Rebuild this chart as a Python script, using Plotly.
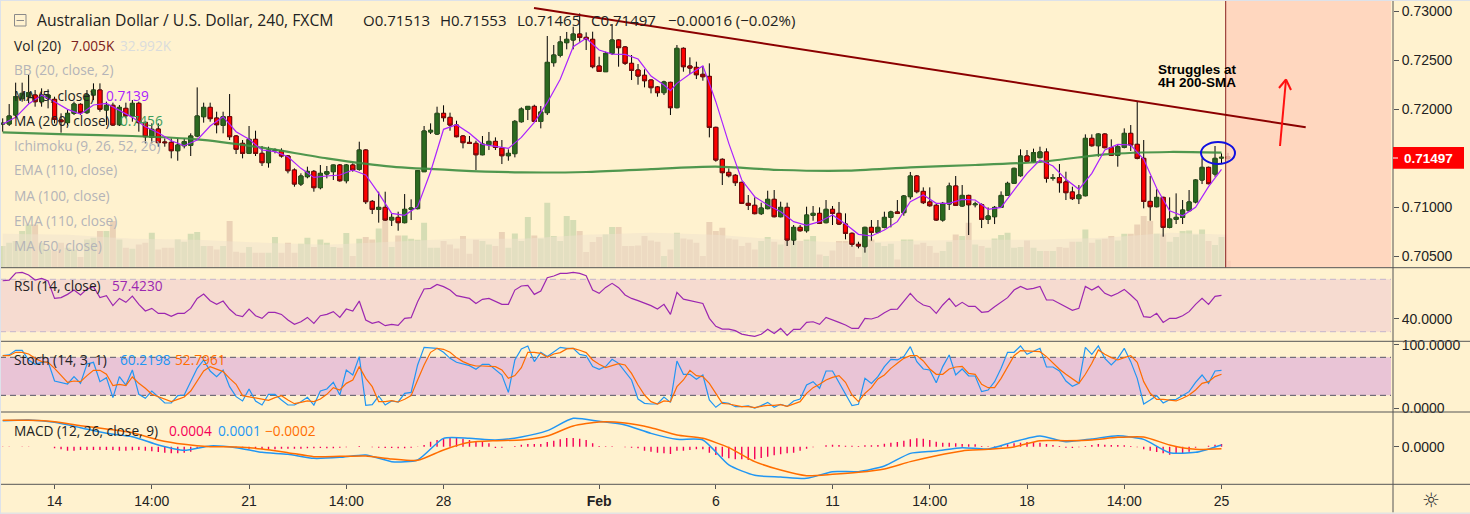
# AUD/USD 4H chart with volume, RSI, stochastic and MACD panes
import plotly.graph_objects as go

W, H = 1470, 514

# candles, prices in 1e-5
opens = [71847,71847,71939,72106,72126,72143,72075,72109,72099,71888,
 71861,71956,72048,71963,72143,72194,71990,72038,71840,72007,
 71929,72058,71864,71711,71796,71664,71660,71575,71626,71630,
 71725,71922,72017,71908,71834,71922,71725,71650,71548,71691,
 71548,71453,71575,71575,71521,71378,71235,71310,71364,71198,
 71337,71361,71429,71269,71429,71385,71582,71058,70977,70997,
 70868,70895,70841,70977,70984,71361,71766,71745,71956,71915,
 71837,71725,71660,71650,71534,71636,71670,71602,71524,71545,
 71871,71997,72027,71874,71963,72473,72548,72677,72704,72765,
 72731,72711,72439,72381,72568,72704,72633,72466,72398,72344,
 72296,72225,72167,72272,72014,72619,72439,72425,72354,72333,
 71813,71487,71354,71324,71252,71038,71018,70933,70984,71079,
 70902,70997,70664,70793,70759,70916,70936,70841,70977,70936,
 70827,70732,70620,70596,70793,70742,70793,70895,70950,70943,
 71106,71317,71160,71052,71018,70868,71031,71215,71011,71119,
 71024,71024,70875,70902,70997,71119,71242,71320,71521,71466,
 71504,71562,71293,71300,71256,71154,71086,71116,71701,71626,
 71745,71606,71528,71609,71752,71640,71497,71058,71004,71099,
 70793,70875,70895,70963,71052,71276,71405,71337,71500,71513]
highs = [71905,72051,72269,72269,72357,72194,72211,72201,72126,71956,
 71990,72075,72058,72194,72262,72262,72075,72065,72041,72065,
 72092,72075,71871,71854,71854,71701,71701,71701,71701,71752,
 72221,72065,72065,71973,71973,72153,71735,71684,71827,71779,
 71623,71616,71599,71599,71531,71395,71344,71412,71378,71429,
 71419,71432,71439,71439,71446,71667,71589,71072,71157,71157,
 70936,70953,71133,71079,71378,71827,71854,72024,72038,71963,
 71881,71735,71725,71677,71725,71766,71711,71684,71589,71888,
 72017,72031,72044,72031,72745,72653,72745,72786,72840,72976,
 72782,72789,72534,72585,72867,72711,72643,72551,72459,72405,
 72303,72235,72289,72279,72653,72629,72527,72483,72439,72466,
 71820,71497,71395,71337,71259,71123,71099,71045,71167,71174,
 71055,71045,70817,70817,71004,71011,70997,71072,71011,71052,
 70936,70742,70647,70800,70868,70868,70953,70963,71072,71123,
 71358,71327,71201,71201,71031,71052,71249,71317,71225,71126,
 71055,71038,70997,71011,71160,71259,71402,71589,71582,71596,
 71616,71599,71337,71439,71361,71208,71225,71742,71742,71752,
 71752,71691,71643,71803,71837,72075,71684,71317,71181,71106,
 71099,71140,71072,71174,71283,71497,71412,71623,71548,71553]
lows = [71769,71827,71922,72075,72058,72024,72024,72007,71854,71759,
 71837,71939,71939,71949,72092,71973,71837,71827,71827,71905,
 71871,71769,71650,71650,71616,71616,71497,71473,71599,71521,
 71711,71861,71871,71752,71752,71684,71541,71497,71541,71521,
 71419,71402,71548,71504,71344,71208,71215,71293,71157,71181,
 71293,71276,71259,71242,71361,71371,71031,70929,70841,70861,
 70807,70759,70834,70868,70977,71361,71745,71735,71871,71779,
 71711,71599,71643,71378,71528,71582,71582,71439,71473,71507,
 71861,71888,71868,71803,71939,72432,72527,72609,72609,72687,
 72602,72415,72378,72378,72551,72432,72449,72296,72248,72221,
 72160,72126,72143,71939,72007,72381,72357,72306,72289,71711,
 71463,71225,71303,71215,71031,70970,70926,70919,70977,70895,
 70895,70603,70613,70749,70739,70861,70827,70834,70817,70817,
 70671,70596,70579,70535,70657,70732,70783,70793,70929,70912,
 71079,71140,71031,71004,70861,70851,70970,71011,71004,70715,
 70997,70786,70827,70827,70990,71113,71235,71310,71460,71453,
 71497,71249,71269,71147,71072,71072,71031,71109,71616,71514,
 71599,71521,71412,71599,71572,71487,70987,70861,70997,70698,
 70783,70827,70827,70956,71038,71235,71232,71310,71439,71465]
closes = [71854,71929,72126,72160,72167,72075,72143,72143,71895,71871,
 71956,72051,71963,72143,72194,71997,72038,71837,72017,71932,
 72058,71861,71718,71793,71657,71657,71575,71633,71667,71725,
 71929,72017,71902,71840,71922,71718,71589,71548,71691,71548,
 71453,71582,71582,71521,71371,71235,71317,71364,71198,71344,
 71361,71429,71269,71429,71378,71582,71055,70977,70997,70868,
 70895,70841,70977,70990,71371,71776,71783,71956,71912,71837,
 71718,71657,71650,71534,71643,71670,71609,71524,71548,71874,
 72000,72027,71874,71970,72476,72551,72684,72711,72765,72731,
 72711,72432,72384,72568,72704,72626,72466,72395,72337,72289,
 72218,72167,72276,72014,72619,72432,72418,72350,72330,71813,
 71480,71351,71320,71249,71038,71018,70933,70990,71079,70902,
 70997,70664,70793,70759,70919,70936,70834,70977,70936,70827,
 70732,70620,70603,70793,70742,70793,70895,70950,70936,71113,
 71317,71157,71045,71014,70868,71038,71215,71018,71119,71024,
 71031,70875,70909,70997,71119,71242,71395,71521,71466,71555,
 71562,71293,71300,71249,71147,71086,71123,71701,71626,71745,
 71606,71528,71616,71752,71633,71497,71058,71004,71099,70793,
 70878,70895,70970,71052,71276,71405,71239,71497,71507,71497]

# volume in K
volume = [21.7,25,26.7,36.7,43.3,43.3,25,18.3,16.7,25,20,18.3,10.7,28.3,30,36.7,36.7,46.7,28.3,20,
 19,23.3,25,35,18.3,20,20,28.3,26,34,35.7,21.7,21.7,18.3,21.7,46.7,16,15,20.7,15,
 15,15,30.7,15,25,15,24,30,20.7,28.3,25,20.7,20,34.7,11.7,29,30.7,28.3,39.3,56.7,
 20.7,32.3,32.3,29,28,45,20,20,26.7,23.3,19.3,31.7,14,28,26.7,23.3,21.7,35.7,20,34.3,
 26.7,50.7,32.3,29.3,65,31.7,26.7,51.7,47.7,36.7,15.7,25.7,30.7,33.3,40.7,40.7,21.7,21.7,22.3,31.7,
 27.3,26,11.7,18.3,35,29.3,28.3,25,11.7,45.7,36.7,40,29.3,28.3,21.7,25,18.3,26.7,30.7,26,
 23.3,28.3,29.3,26.7,28.3,31.7,13.3,11.7,17.3,26.7,26.7,21.7,10.7,20,28.3,25,21.7,24,8.3,28.3,
 28.3,23.3,25,21.7,15,16.7,26,33.3,31.7,45,23.3,21.7,20,29.3,32.7,35,20,20.7,27.3,20,
 16.7,16.7,16.7,20.7,20,26,26,38.3,25,28.3,29,31.7,27.3,34,34,43.3,51.7,46.7,34,33.3,
 26,30.7,36.7,37.3,33.3,38.3,26.7,22.7,30.7,7.0]
vol_ma_bars = [0,10,20,30,40,50,60,70,80,90,100,110,120,130,140,150,160,170,180,189]
vol_ma = [34,33,29,28,25,23,26,29,29,33,35,33,28,25,27,28,28,30,35,33]

ma5_bars = [0,2,4,6,8,10,12,14,16,18,20,22,24,26,28,30,32,34,36,38,40,42,44,46,48,50,52,54,56,58,60,62,64,
 66,68,70,72,74,76,78,80,82,84,86,88,90,92,94,96,98,100,102,103,104,106,108,109,110,112,114,116,118,120,122,124,
 126,128,130,132,134,136,138,140,142,144,146,148,150,152,154,156,158,160,162,164,166,168,170,172,174,176,178,180,182,184,186,188]
ma5 = [71847,71915,72051,72140,72075,71997,71949,72041,72058,71983,71915,71820,71759,71677,71626,71684,71827,71922,71769,71691,
 71582,71565,71514,71395,71303,71317,71327,71378,71327,71140,70936,70916,71004,
 71361,71793,71840,71752,71640,71623,71599,71711,71864,72065,72303,72636,72721,72602,72561,72558,72510,72337,72245,72187,72262,72357,72439,72262,72075,71650,71276,71106,71021,70953,70851,70814,
 70851,70919,70827,70722,70705,70766,70851,71055,71123,71038,71038,71079,71072,70977,70997,71174,71344,71480,71419,71283,71181,71344,71582,71640,71633,71487,71191,70963,70912,70997,71208,71385]
ma200_bars = [0,10,20,30,40,50,60,70,80,90,100,110,120,130,140,150,160,170,180,188]
ma200 = [71762,71742,71725,71691,71606,71497,71412,71375,71354,71358,71388,71412,71378,71371,71405,71429,71460,71538,71562,71555]

rsi = [68.9,69.4,74.8,75.3,73.3,69.4,70.7,68.7,55.4,56,58.5,61.8,58,62.6,64.4,56,57.5,49.9,55.4,52.4,
 57.2,50.9,45.8,47.8,44,44,41.7,44,44,47.8,55.4,58.8,53.7,50.9,53.4,47.1,42.7,41.5,47.3,42.2,
 40.2,44.8,44.8,43.2,38.9,35.6,37.6,40.9,36.4,42.2,43.2,45.3,40.9,47.3,45.8,53.4,38.9,36.4,37.6,34.6,
 35.6,34.8,40.2,40.7,52.9,62.6,63.1,66.1,64.4,61.8,57.5,56.2,55.4,51.6,54.7,55.4,
 52.9,50.9,50.9,61.8,64.9,65.4,58.5,61,71.2,72.5,74.5,74.5,75.3,74.5,72.8,61.8,59.3,63.8,66.9,63.6,
 58,55.4,53.7,51.9,49.9,47.3,50.9,43.2,60,54.9,53.9,52.4,51.6,40.2,34.1,32,32,30.8,28.2,27.2,
 26.4,28,31.8,28.7,32.5,27.2,31.8,31.8,37.1,37.6,35.6,40.9,39.2,37.1,35.1,32.5,32.5,40.2,39.7,41.2,
 44.5,47.1,47.3,53.4,59.3,53.7,50.4,49.1,44,50.4,55.4,49.3,52.4,49.3,49.3,
 44.8,45.3,49.1,52.4,56,61.8,64.6,62.3,63.1,64.6,54.2,54.2,51.6,48.6,46.3,47.8,64.6,61.8,64.6,59.3,
 57.2,59.3,62.3,58,53.4,41.5,40.9,44,37.1,40.2,40.2,42.2,45.3,50.9,55.4,50.9,57,57.7]

stoch_k = [82.6,83.7,91,91,75.8,68.9,72.1,73.2,42.6,40,37.9,49.5,38.9,69.5,72.1,41.6,47.9,16.3,49.5,36.3,
 60,21.6,15.3,26.8,17.9,7.9,7.9,19.5,20.5,41.6,62.6,75.8,58.4,49.5,60,33.7,17.9,11.1,30,11.1,
 4.7,21.6,21.6,12.6,4.7,4.7,10,16.8,4.7,26.8,30,40.5,20.5,60,52.1,81.1,4.2,5.3,18.9,4.7,
 11.1,9.5,23.2,24.7,67.9,95.8,94.7,94.2,87.9,78.4,72.1,70,66.8,61.1,68.9,68.9,
 60,52.1,24.7,75.8,93.2,97.9,73.2,87.9,81.1,87.9,95.8,94.2,94.2,84.7,82.6,65.3,61.1,65.3,76.8,70.5,
 57.4,44.2,14.2,7.4,6.3,6.3,17.4,8.9,74.2,53.2,53.2,45.3,52.1,12.6,1.1,8.9,7.4,2.1,2.1,3.2,
 0,3.7,8.9,1.1,5.8,2.6,11.1,14.2,36.3,41.6,31.1,58.4,58.4,40.5,23.2,3.7,5.8,46.8,38.9,49.5,
 65.3,76.8,75.8,81.1,96.8,73.2,61.6,60,40,65.3,83.7,52.1,61.6,50.5,50.5,
 25.8,28.4,41.6,62.6,87.9,87.9,97.9,84.7,90,94.2,64.7,64.7,58.4,42.6,34.2,38.9,95.8,84.7,97.9,78.4,
 67.9,78.4,94.2,73.2,46.8,6.3,12.6,19.5,7.9,13.2,13.7,19.5,25.8,40.5,52.1,38.9,58.4,59.5]
stoch_d = [82.6,82.6,87.9,87.9,85.3,78.4,73.2,72.1,62.6,51.1,40.5,42.6,41.6,51.1,59.5,59.5,53.2,35.3,37.4,35.3,
 48.9,38.9,31.1,21.6,17.4,13.7,10,13.7,17.4,26.8,41.6,58.4,65.3,61.1,57.4,46.8,37.4,19.5,17.9,16.3,
 14.2,12.1,16.3,19.5,12.6,6.8,8.9,11.1,10,14.2,21.6,32.1,28.4,38.9,44.2,65.3,46.8,33.7,10,10,
 11.6,9.5,13.7,19.5,44.2,67.9,87.9,94.2,92.6,87.9,79.5,73.2,68.9,66.3,66.3,66.3,
 65.3,60,46.8,51.1,63.7,87.9,87.9,86.3,80,85.3,87.4,93.2,94.2,91.1,87.4,75.8,68.9,63.7,66.8,70,
 67.9,54.7,36.3,20.5,10,6.3,11.1,10,33.7,44.2,59.5,51.1,49.5,38.9,23.2,7.4,6.3,4.7,2.1,2.1,
 0.5,2.6,4.2,4.2,5.3,2.6,5.8,10,23.2,32.1,37.4,44.2,48.4,51.1,40.5,20.5,10,23.2,32.1,45.8,
 52.1,62.6,70.5,78.4,82.6,82.6,74.2,61.6,53.2,53.2,61.6,64.7,65.8,54.7,53.2,
 37.4,32.1,32.1,46.8,65.3,82.6,90.5,90,90,88.9,81.1,70.5,61.1,53.2,45.8,38.9,53.2,70.5,91.6,84.7,
 79.5,75.8,79.5,82.6,72.1,41.6,23.2,13.7,13.7,12.6,11.1,15.3,20.5,28.4,38.9,41.6,49.5,53.2]

# MACD in 1e-4, line and signal read every 4 bars
macd_bars = list(range(0, 189, 4))
macd_line = [26,26.7,24.3,19,13.3,10,1.7,-3.7,0.7,-1,-5.7,-7.7,-11.7,-10.7,-8.3,-15,-13.3,8.3,8.3,
 6.7,9.7,16,28.3,25.3,21.7,13.3,7.3,6.7,-18.3,-28.7,-30.3,-31.7,-25,-25,-19.3,-6.7,-4.3,-1,
 -2.3,5,10.7,5,7.7,11,7.3,-6,-5.7,1.7]
macd_signal = [26.3,26.3,25,21,17.7,14,6.7,2.3,0,-0.3,-2.3,-6,-10,-9.7,-9.3,-12.3,-13.7,-3.3,4.3,
 6,6.7,10.7,20.7,24.7,23.7,19,11.7,8.3,-1,-15,-23.3,-29,-27.7,-25.7,-22.3,-15,-9,-4.3,
 -2.7,-0.3,6,6,6.7,9.3,9.7,1.7,-2.7,-2]
macd_hist = [-0.3,-0.3,0,-0.3,-0.3,0,0,0,
 -1.7,-2.7,-4,-4,-3.3,-3.3,-3.3,-3.3,-3.3,-3.3,-4,-4,-3.7,-3.3,-4,-4.7,-5.3,-6,-6.7,-6.7,-6,-5,-2,-0.7,0,0,0,-0.3,-0.7,-1,-2,-2,
 -2.7,-2.7,-2.7,-2,-2,-2,-2,-1.7,-1.7,-1.3,-1.7,-1.7,-1,-0.7,0,0.7,0,-0.7,-1,-1.3,-1.3,-1.7,-1.7,-1,-0.3,1.7,5,6.7,8,9.3,9.3,8,6.7,5.3,4.7,3.3,
 -1.3,-1,0,0.7,2,2.7,2.7,2.7,4.7,6,7.3,8.7,8.7,8,6.7,3.3,0.7,0.3,0.3,0,-0.7,-1,-1.7,-4,-5,-6,-6.7,-7.3,-4,-4,-3.3,-2.7,-2.7,-6,-8.3,-10,-11.7,-12.7,-12.7,-13.3,
 -12.7,-11.3,-10,-8.7,-7.7,-6.7,-6,-4,-2,-0.7,0,1.3,2,1.7,1,1,0.7,1.3,1.3,1.7,3,4,4.7,6,7.3,8.3,8,6.7,5,4,4,3.3,2.7,2.3,2.3,
 0.7,0.3,0.3,0.7,2.3,3.3,4,4.7,4.7,4,2.7,1.7,0.7,-1,-1.3,-0.7,0.7,1.7,2.7,2,1.7,1.7,1.3,0.7,-0.7,-2.7,-4,-5.3,-6.7,-8,-7.3,-6.7,-5,-1,0,1,2,2.7]

tick_bars = [8, 23, 38, 53, 68, 92, 110, 128, 143, 158, 173, 188]
tick_labels = ["14", "14:00", "21", "14:00", "28", "<b>Feb</b>", "6", "11", "14:00", "18", "14:00", "25"]

FONT = "Open Sans"
AXIS_FONT = "Liberation Sans"
BG = "#FFF2CF"
LINE = "#555555"

BAR_PX = 6.483
LEFT_PX = 2.7
RIGHT_PX = 1393

bars = list(range(len(opens)))
o = [v / 1e5 for v in opens]
h = [v / 1e5 for v in highs]
l = [v / 1e5 for v in lows]
c = [v / 1e5 for v in closes]


def dom(top, bottom):
    return [1 - bottom / H, 1 - top / H]


def bar_at(px):
    return (px - LEFT_PX) / BAR_PX


def price_at(py):
    return 0.73 - (py - 11) * 0.000102


fig = go.Figure()

# volume first, it sits on the base axis under the candles
vol_colors = ["#D6DDB4" if c_ >= o_ else "#EBD2B6" for o_, c_ in zip(o, c)]
fig.add_trace(go.Scatter(x=vol_ma_bars, y=vol_ma, yaxis="y", fill="tozeroy", mode="none",
                         fillcolor="rgba(240,226,205,0.5)"))
fig.add_trace(go.Bar(x=bars, y=volume, width=0.92, marker_color=vol_colors, marker_line_width=0, yaxis="y"))

# wicks, then the bodies over them in their own outline colour
fig.add_trace(go.Candlestick(x=bars, open=o, high=h, low=l, close=c, yaxis="y2", whiskerwidth=0,
                             increasing=dict(line=dict(color="#000000", width=1), fillcolor="#2B6A20"),
                             decreasing=dict(line=dict(color="#000000", width=1), fillcolor="#FF0000")))
tops = [max(a, b) for a, b in zip(o, c)]
bottoms = [min(a, b) for a, b in zip(o, c)]
fig.add_trace(go.Candlestick(x=bars, open=o, high=tops, low=bottoms, close=c, yaxis="y2", whiskerwidth=0,
                             increasing=dict(line=dict(color="#2B5A1E", width=1), fillcolor="#2B6A20"),
                             decreasing=dict(line=dict(color="#7A0A0A", width=1), fillcolor="#FF0000")))

fig.add_trace(go.Scatter(x=ma200_bars, y=[v / 1e5 for v in ma200], yaxis="y2", mode="lines",
                         line=dict(color="#3E8E41", width=2.2, shape="spline", smoothing=0.6), opacity=0.9))
fig.add_trace(go.Scatter(x=ma5_bars, y=[v / 1e5 for v in ma5], yaxis="y2", mode="lines",
                         line=dict(color="#AA22FF", width=1.2)))

fig.add_trace(go.Scatter(x=bars[:len(rsi)], y=rsi, yaxis="y3", mode="lines", line=dict(color="#9C27B0", width=1.2)))
fig.add_trace(go.Scatter(x=bars[:len(stoch_k)], y=stoch_k, yaxis="y4", mode="lines", line=dict(color="#2196F3", width=1.2)))
fig.add_trace(go.Scatter(x=bars[:len(stoch_d)], y=stoch_d, yaxis="y4", mode="lines", line=dict(color="#FF6D00", width=1.2)))

# histogram as thin stems, plotly rounds narrow bars to two pixels
stem_x, stem_y = [], []
for i, v in enumerate(macd_hist):
    stem_x += [i, i, None]
    stem_y += [0, v / 1e4, None]
fig.add_trace(go.Scatter(x=stem_x, y=stem_y, yaxis="y5", mode="lines", line=dict(color="#F50057", width=1.4)))
fig.add_trace(go.Scatter(x=macd_bars, y=[v / 1e4 for v in macd_line], yaxis="y5", mode="lines",
                         line=dict(color="#2196F3", width=1.5, shape="spline", smoothing=0.6)))
fig.add_trace(go.Scatter(x=macd_bars, y=[v / 1e4 for v in macd_signal], yaxis="y5", mode="lines",
                         line=dict(color="#FF6D00", width=1.5, shape="spline", smoothing=0.6)))

shapes = []
band_x0, band_x1 = bar_at(0), bar_at(1391)

# forecast zone and the drawings on the price pane
shapes.append(dict(type="rect", xref="x", yref="paper", x0=bar_at(1226), x1=band_x1, y0=1 - 267.7 / H, y1=1 - 1 / H,
                   fillcolor="rgba(255,207,186,0.8)", line_width=0, layer="above"))
shapes.append(dict(type="line", xref="x", yref="paper", x0=bar_at(1225.7), x1=bar_at(1225.7), y0=1 - 267.7 / H, y1=1 - 1 / H,
                   line=dict(color="#8B2020", width=1), layer="above"))
shapes.append(dict(type="line", xref="x", yref="y2", x0=bar_at(534), y0=price_at(8), x1=bar_at(1305.7), y1=price_at(127.3),
                   line=dict(color="#8B0000", width=2), layer="above"))
shapes.append(dict(type="circle", xref="x", yref="y2", x0=bar_at(1201), x1=bar_at(1235), y0=price_at(164), y1=price_at(142),
                   line=dict(color="#1010E0", width=2), layer="above"))
for x0, y0, x1, y1 in [(1280, 146, 1286, 79.5), (1279, 88, 1286, 79.5), (1291, 90, 1286, 79.5)]:
    shapes.append(dict(type="line", xref="x", yref="y2", x0=bar_at(x0), y0=price_at(y0), x1=bar_at(x1), y1=price_at(y1),
                       line=dict(color="#FF1010", width=2), layer="above"))

# oscillator bands
shapes.append(dict(type="rect", xref="x", yref="y3", x0=band_x0, x1=band_x1, y0=30, y1=70,
                   fillcolor="#F6DBD0", line_width=0, layer="below"))
shapes.append(dict(type="rect", xref="x", yref="y4", x0=band_x0, x1=band_x1, y0=20, y1=80,
                   fillcolor="#E9C4D6", line_width=0, layer="below"))
for lvl in [30, 70]:
    shapes.append(dict(type="line", xref="x", yref="y3", x0=band_x0, x1=band_x1, y0=lvl, y1=lvl,
                       line=dict(color="#C4B4CC", width=1, dash="6px,4px"), layer="below"))
for lvl in [20, 80]:
    shapes.append(dict(type="line", xref="x", yref="y4", x0=band_x0, x1=band_x1, y0=lvl, y1=lvl,
                       line=dict(color="#555566", width=1, dash="6px,4px"), layer="below"))

# pane dividers, right axis line, page edges
for py in [267.7, 341.3, 412, 484.3]:
    shapes.append(dict(type="line", xref="paper", yref="paper", x0=0, x1=1, y0=1 - py / H, y1=1 - py / H,
                       line=dict(color=LINE, width=1), layer="above"))
shapes.append(dict(type="line", xref="paper", yref="paper", x0=RIGHT_PX / W, x1=RIGHT_PX / W, y0=1.5 / H, y1=1,
                   line=dict(color=LINE, width=1), layer="above"))
shapes.append(dict(type="rect", xref="paper", yref="paper", x0=0, x1=1, y0=0, y1=1.5 / H,
                   fillcolor="#E4E4E4", line_width=0, layer="above"))
shapes.append(dict(type="rect", xref="paper", yref="paper", x0=0, x1=1, y0=1 - 1 / H, y1=1,
                   fillcolor="#DDE2EA", line_width=0, layer="above"))
shapes.append(dict(type="rect", xref="paper", yref="paper", x0=0, x1=1 / W, y0=0, y1=1,
                   fillcolor="#DDE2EA", line_width=0, layer="above"))

# last price tag
shapes.append(dict(type="rect", xref="paper", yref="paper", x0=RIGHT_PX / W, x1=1464 / W, y0=1 - 168.7 / H, y1=1 - 147 / H,
                   fillcolor="#FF0000", line_width=0, layer="above"))
shapes.append(dict(type="line", xref="paper", yref="paper", x0=RIGHT_PX / W, x1=1398 / W, y0=1 - 158 / H, y1=1 - 158 / H,
                   line=dict(color="#FFFFFF", width=1), layer="above"))

# collapse icon
shapes.append(dict(type="rect", xref="paper", yref="paper", x0=14.5 / W, x1=26 / W, y0=1 - 26 / H, y1=1 - 14.5 / H,
                   line=dict(color="#8A8A8A", width=1), fillcolor="rgba(0,0,0,0)", layer="above"))
shapes.append(dict(type="line", xref="paper", yref="paper", x0=16.5 / W, x1=24 / W, y0=1 - 20.5 / H, y1=1 - 20.5 / H,
                   line=dict(color="#8A8A8A", width=1), layer="above"))

annotations = []


def label(px, py, text, color="#222222", size=13.7, family=FONT, anchor="left"):
    annotations.append(dict(xref="paper", yref="paper", x=px / W, y=1 - py / H, text=text, showarrow=False,
                            xanchor=anchor, yanchor="middle", font=dict(family=family, size=size, color=color),
                            borderpad=0, borderwidth=0))


label(37, 20, "Australian Dollar / U.S. Dollar, 240, FXCM", size=15.7)
label(363, 20, "O0.71513", size=15)
label(440, 20, "H0.71553", size=15)
label(517, 20, "L0.71465", size=15)
label(591, 20, "C0.71497", size=15)
label(668, 20, "−0.00016 (−0.02%)", size=15)
label(14, 45, "Vol (20)")
label(71, 45, "7.005K", color="#7B2020")
label(120, 45, "32.992K", color="#DADCDC")
label(14, 70, "BB (20, close, 2)", color="#B4B4B8")
label(14, 95, "MA (5, close)")
label(106, 95, "0.7139", color="#AA22FF")
label(14, 120, "MA (200, close)")
label(120, 120, "0.7456", color="#3E9E5E")
label(14, 145, "Ichimoku (9, 26, 52, 26)", color="#B4B4B8")
label(14, 170, "EMA (110, close)", color="#B4B4B8")
label(14, 195, "MA (100, close)", color="#B4B4B8")
label(14, 220, "EMA (110, close)", color="#B4B4B8")
label(14, 245, "MA (50, close)", color="#B4B4B8")
label(14, 285.5, "RSI (14, close)")
label(112, 285.5, "57.4230", color="#9C27B0")
label(14, 359.5, "Stoch (14, 3, 1)")
label(120, 359.5, "60.2198", color="#2196F3")
label(175, 359.5, "52.7961", color="#FF6D00")
label(14, 430, "MACD (12, 26, close, 9)")
label(169, 430, "0.0004", color="#F50057")
label(218, 430, "0.0001", color="#2196F3")
label(265, 430, "−0.0002", color="#FF6D00")
label(1197, 69.5, "<b>Struggles at</b>", color="#000000", size=13.5, family=AXIS_FONT, anchor="center")
label(1197, 83, "<b>4H 200-SMA</b>", color="#000000", size=13.5, family=AXIS_FONT, anchor="center")
label(1428, 158, "<b>0.71497</b>", color="#FFFFFF", size=13.5, family=AXIS_FONT, anchor="center")
label(1431, 500, "☼", color="#333333", size=20, family="DejaVu Sans", anchor="center")


def pane_axis(top, bottom, rng, ticks, fmt):
    return dict(domain=dom(top, bottom), range=rng, anchor="x", side="right", tickvals=ticks, tickformat=fmt,
                ticks="outside", ticklen=5, tickcolor=LINE, showline=False, showgrid=False, zeroline=False,
                automargin=False, tickfont=dict(family=AXIS_FONT, size=14, color="#222222"))


fig.update_layout(
    width=W, height=H, margin=dict(l=0, r=0, t=0, b=0), paper_bgcolor=BG, plot_bgcolor=BG,
    showlegend=False, barmode="overlay", boxmode="overlay", boxgap=0.1, dragmode=False, hovermode=False,
    shapes=shapes, annotations=annotations,
    xaxis=dict(domain=[0, RIGHT_PX / W], range=[bar_at(0), bar_at(RIGHT_PX)], anchor="y5", rangeslider_visible=False,
               tickvals=tick_bars, ticktext=tick_labels, ticks="outside", ticklen=4, tickcolor=LINE,
               showgrid=False, zeroline=False, showline=False, tickangle=0, automargin=False,
               tickfont=dict(family=AXIS_FONT, size=14, color="#222222")),
    yaxis=dict(domain=dom(1, 267.7), range=[0, 266.7], anchor="x", visible=False, automargin=False),
    yaxis2=dict(pane_axis(1, 267.7, [price_at(267.7), price_at(1)], [0.705, 0.71, 0.72, 0.725, 0.73], ".5f"),
                overlaying="y"),
    yaxis3=pane_axis(267.7, 341.3, [30 + (331.7 - 341.3) / 1.31, 30 + (331.7 - 267.7) / 1.31], [40], ".4f"),
    yaxis4=pane_axis(341.3, 412, [(429 - 441) / 1.9, (429 - 229) / 1.9], [0, 100], ".4f"),
    yaxis5=pane_axis(412, 484.3, [(545 - 658) / 3 / 1e4, (545 - 441) / 3 / 1e4], [0], ".4f"),
)

# the default page has a body margin that would push the chart off the window
fig.write_html("out.html", config={"displayModeBar": False},
               post_script="document.body.style.margin='0';document.body.style.overflow='hidden';")
